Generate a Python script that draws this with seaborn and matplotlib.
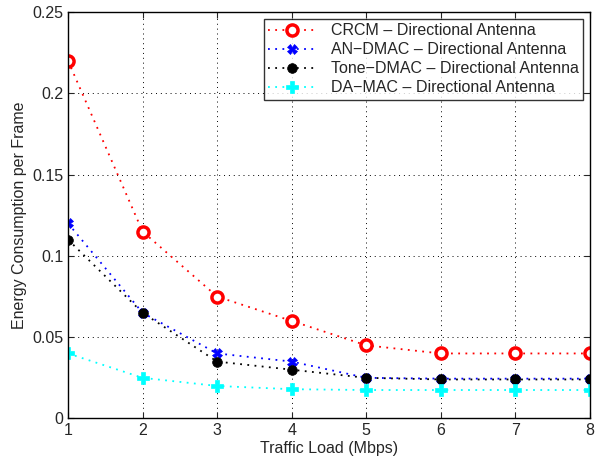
import matplotlib
matplotlib.use("Agg")
import matplotlib.pyplot as plt
import seaborn as sns
import pandas as pd

traffic = [1, 2, 3, 4, 5, 6, 7, 8]
crcm = [0.22, 0.115, 0.075, 0.06, 0.045, 0.040, 0.040, 0.040]
an_dmac = [0.12, 0.065, 0.040, 0.035, 0.025, 0.0245, 0.0245, 0.0245]
tone_dmac = [0.11, 0.065, 0.035, 0.030, 0.025, 0.024, 0.024, 0.024]
da_mac = [0.040, 0.025, 0.020, 0.018, 0.0175, 0.0175, 0.0175, 0.0175]
labels = ["CRCM \u2013 Directional Antenna", "AN\u2212DMAC \u2013 Directional Antenna",
          "Tone\u2212DMAC \u2013 Directional Antenna", "DA\u2212MAC \u2013 Directional Antenna"]

sns.set_style("ticks")
plt.rcParams['font.family'] = ['Liberation Sans', 'DejaVu Sans']

fig = plt.figure(figsize=(5.97, 4.66), dpi=100)
ax = fig.add_axes([0.114, 0.102, 0.874, 0.872])

styles = [
    dict(color="red", marker="o", markerfacecolor="white", markeredgecolor="red", markersize=8, markeredgewidth=2.5),
    dict(color="blue", marker="X", markerfacecolor="blue", markeredgecolor="blue", markersize=7, markeredgewidth=0.5),
    dict(color="black", marker="o", markerfacecolor="black", markeredgecolor="black", markersize=7, markeredgewidth=0.5),
    dict(color="cyan", marker="P", markerfacecolor="cyan", markeredgecolor="cyan", markersize=8, markeredgewidth=0.5),
]
for vals, lab, st in zip([crcm, an_dmac, tone_dmac, da_mac], labels, styles):
    df = pd.DataFrame({"x": traffic, "y": vals})
    sns.lineplot(data=df, x="x", y="y", ax=ax, label=lab, linestyle=(0, (1, 3)), linewidth=1.3, **st)

ax.set_xlim(1, 8)
ax.set_ylim(0, 0.25)
ax.set_xticks(traffic)
ax.set_yticks([0, 0.05, 0.1, 0.15, 0.2, 0.25])
ax.set_yticklabels(["0", "0.05", "0.1", "0.15", "0.2", "0.25"])
ax.set_xlabel("Traffic Load (Mbps)", fontsize=11.5, labelpad=2)
ax.set_ylabel("Energy Consumption per Frame", fontsize=11.5, labelpad=4)
ax.tick_params(direction="in", top=True, right=True, labelsize=11.5, length=4)
ax.grid(True, linestyle=(0, (1, 4)), color="black", linewidth=0.7)
for s in ax.spines.values():
    s.set_linewidth(1.0)
    s.set_color("black")
leg = ax.legend(loc="upper right", fontsize=11.5, frameon=True, fancybox=False, edgecolor="black",
                borderpad=0.3, labelspacing=0.25, handlelength=3.0, handletextpad=0.9, borderaxespad=0.4)
leg.get_frame().set_linewidth(1.0)
fig.savefig("out.png", dpi=100)
